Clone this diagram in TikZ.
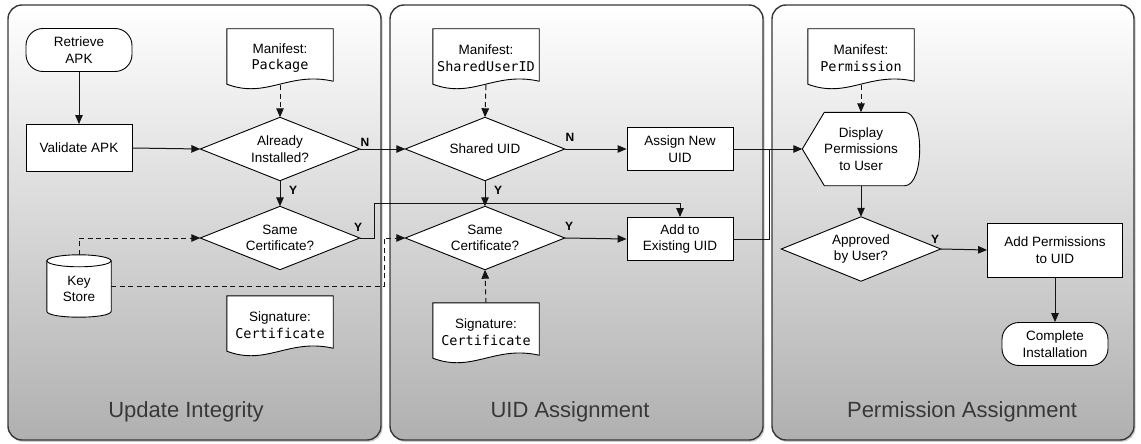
\documentclass[tikz,border=0pt]{standalone}
\usepackage{fontspec}
\setmainfont{Liberation Sans}
\newfontfamily\codefont{DejaVu Sans Mono}
\usetikzlibrary{arrows.meta,calc}
\pgfdeclarelayer{panels}
\pgfdeclarelayer{shapes}
\pgfsetlayers{panels,shapes,main}

\tikzset{
  txt/.style={font=\fontsize{13.5}{16.5}\selectfont, align=center, inner sep=0pt, text=black},
  proc/.style={txt, draw=black, fill=white, line width=0.9pt, minimum width=106pt, minimum height=43pt},
  term/.style={proc, rounded corners=17pt},
  dec/.style={txt, minimum width=159pt, minimum height=63pt},
  doc/.style={txt, minimum width=106pt, minimum height=58pt},
  disp/.style={txt, minimum width=117pt, minimum height=73pt},
  store/.style={txt, minimum width=64pt, minimum height=56pt},
  outline/.style={draw=black, fill=white, line width=0.9pt, line join=miter},
  panel/.style={draw=black!78, line width=1.4pt, rounded corners=14pt, top color=white, bottom color=black!31},
  paneltitle/.style={font=\fontsize{22}{26}\selectfont, text=black!78, inner sep=0pt, anchor=base},
  wire/.style={line width=1pt, draw=black!92},
  conn/.style={wire, -{Triangle[length=9pt,width=7.5pt]}},
  dashline/.style={dash pattern=on 5pt off 3.5pt},
  yn/.style={font=\bfseries\fontsize{12}{14}\selectfont, inner sep=0pt}
}

% document symbol with a wavy lower edge
\newcommand\docoutline[1]{%
  \draw[outline] (#1.north west) -- ($(#1.south west)+(0,-3)$)
    .. controls ($(#1.south west)+(40,12)$) and ($(#1.south east)+(-45,-16)$) ..
    ($(#1.south east)+(0,-6)$) -- (#1.north east) -- cycle;}
% decision diamond
\newcommand\decoutline[1]{%
  \draw[outline] (#1.west) -- (#1.north) -- (#1.east) -- (#1.south) -- cycle;}

\begin{document}
\begin{tikzpicture}[x=1pt,y=-1pt]
\useasboundingbox (0,0) rectangle (1141,444);

% swim-lane panels
\begin{pgfonlayer}{panels}
  \foreach \xa/\xb in {8/381, 390/763, 772/1134} {
    \fill[black!45, opacity=0.45, rounded corners=14pt] (\xa+1,6.5) rectangle (\xb+1.5,441.8);
    \draw[panel] (\xa,5) rectangle (\xb,440);
  }
\end{pgfonlayer}

\node[paneltitle] (titleA) at (186,417) {Update Integrity};
\node[paneltitle] (titleB) at (570,417) {UID Assignment};
\node[paneltitle] (titleC) at (962,417) {Permission Assignment};

% ---- Update Integrity ----
\node[term] (retrieve) at (79,50) {Retrieve\\APK};
\node[proc, minimum height=47pt] (validate) at (79,148) {Validate APK};
\node[doc] (manpkg) at (280,58) {Manifest:\\\codefont Package};
\node[dec] (inst) at (280,149) {Already\\Installed?};
\node[dec] (samecA) at (280,238) {Same\\Certificate?};
\node[store] (keys) at (79,289) {Key\\Store};
\node[doc] (sigA) at (280,325) {Signature:\\\codefont Certificate};

% ---- UID Assignment ----
\node[doc] (manuid) at (486,58) {Manifest:\\\codefont SharedUserID};
\node[dec] (shared) at (485,149) {Shared UID};
\node[proc] (assign) at (680,149) {Assign New\\UID};
\node[dec] (samecB) at (485,238) {Same\\Certificate?};
\node[proc] (addexist) at (680,239) {Add to\\Existing UID};
\node[doc] (sigB) at (486,332) {Signature:\\\codefont Certificate};

% ---- Permission Assignment ----
\node[doc] (manperm) at (861,58) {Manifest:\\\codefont Permission};
\node[disp] (display) at (861,149) {Display\\Permissions\\to User};
\node[dec, minimum height=64pt] (approved) at (861,249) {Approved\\by User?};
\node[proc, minimum width=135pt, minimum height=54pt] (addperm) at (1055,250) {Add Permissions\\to UID};
\node[term] (complete) at (1055,344) {Complete\\Installation};

% outlines of the custom symbols
\begin{pgfonlayer}{shapes}
  \docoutline{manpkg}
  \docoutline{sigA}
  \docoutline{manuid}
  \docoutline{sigB}
  \docoutline{manperm}
  \decoutline{inst}
  \decoutline{samecA}
  \decoutline{shared}
  \decoutline{samecB}
  \decoutline{approved}
  % display symbol
  \draw[outline] (display.west) -- ($(display.north west)+(22,0)$)
    -- ($(display.north east)+(-15,0)$)
    .. controls ($(display.north east)+(5,0)$) and ($(display.south east)+(5,0)$) ..
    ($(display.south east)+(-15,0)$) -- ($(display.south west)+(22,0)$) -- cycle;
  % key store cylinder
  \draw[outline] (keys.north west) -- (keys.north east) -- ($(keys.south east)+(0,-6)$)
    .. controls ($(keys.south east)+(0,2)$) and ($(keys.south west)+(0,2)$) ..
    ($(keys.south west)+(0,-6)$) -- cycle;
  \draw[outline] (keys.north) ellipse [x radius=32, y radius=6];
\end{pgfonlayer}

% ---- connectors ----
\draw[conn] (retrieve.south) -- (validate.north);
\draw[conn] (validate.east) -- (inst.west);
\draw[conn, dashline] ($(manpkg.south)+(0,-2)$) -- (inst.north);
\draw[conn] (inst.south) -- (samecA.north);
\draw[conn] (inst.east) -- (shared.west);
\coordinate (yA) at (374,203);
\draw[conn] (samecA.east) -| (yA) -| (addexist.north);
\draw[conn, dashline] ($(keys.north)+(0,-6)$) |- (samecA.west);
\coordinate (gapB) at (384,238);
\draw[conn, dashline] ($(keys.east)+(0,-3)$) -| (gapB) -- (samecB.west);

\draw[conn, dashline] ($(manuid.south)+(0,-2)$) -- (shared.north);
\draw[conn] (shared.east) -- (assign.west);
\draw[conn] (shared.south) -- (samecB.north);
\draw[conn] (samecB.east) -- (addexist.west);
\draw[conn, dashline] (sigB.north) -- (samecB.south);
\draw[conn] (assign.east) -- (display.west);
\coordinate (joinC) at (769,149);
\draw[wire] (addexist.east) -| (joinC);

\draw[conn, dashline] ($(manperm.south)+(0,-2)$) -- (display.north);
\draw[conn] (display.south) -- (approved.north);
\draw[conn] (approved.east) -- (addperm.west);
\draw[conn] (addperm.south) -- (complete.north);

% branch labels
\node[yn] (nInst) at (365,142) {N};
\node[yn] (yInst) at (293,190) {Y};
\node[yn] (ySameA) at (358,227) {Y};
\node[yn] (nShared) at (570,137) {N};
\node[yn] (yShared) at (498,190) {Y};
\node[yn] (ySameB) at (569,226) {Y};
\node[yn] (yApproved) at (935,239) {Y};
\end{tikzpicture}
\end{document}
